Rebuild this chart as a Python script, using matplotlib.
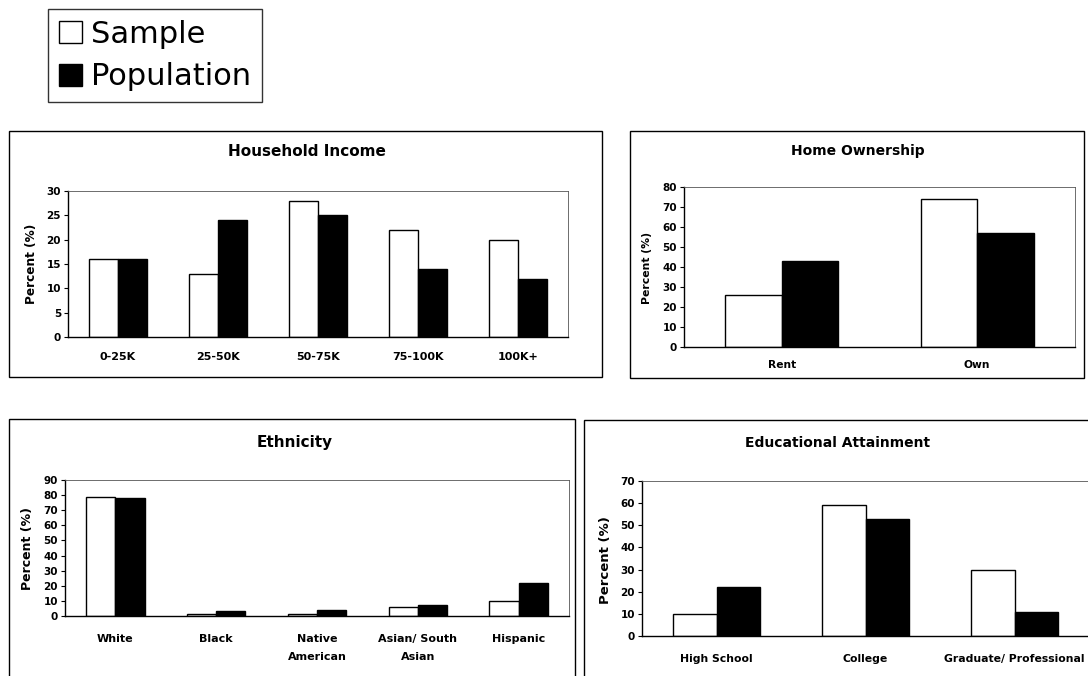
import numpy as np
import matplotlib.pyplot as plt
from matplotlib.patches import Rectangle

plt.rcParams['font.family'] = ['DejaVu Sans']

# survey sample vs. census population, percent
income_cats = ['0-25K', '25-50K', '50-75K', '75-100K', '100K+']
income_sample = [16, 13, 28, 22, 20]
income_pop = [16, 24, 25, 14, 12]

home_cats = ['Rent', 'Own']
home_sample = [26, 74]
home_pop = [43, 57]

eth_cats = ['White', 'Black', 'Native\nAmerican', 'Asian/ South\nAsian', 'Hispanic']
eth_sample = [79, 1.5, 1.5, 6, 10]
eth_pop = [78, 3, 4, 7, 22]

edu_cats = ['High School', 'College', 'Graduate/ Professional']
edu_sample = [10, 59, 30]
edu_pop = [22, 53, 11]

W, H = 1088, 676
fig = plt.figure(figsize=(W / 100, H / 100), dpi=100)


def rect(x0, y0, x1, y1):
    # pixel box (origin top-left) -> figure fraction [l, b, w, h]
    return [x0 / W, 1 - y1 / H, (x1 - x0) / W, (y1 - y0) / H]


def frame(x0, y0, x1, y1):
    l, b, w, h = rect(x0, y0, x1, y1)
    fig.patches.append(Rectangle((l, b), w, h, transform=fig.transFigure,
                                 fill=False, ec='black', lw=1.0))


def label(x, y, text, size, **kw):
    fig.text(x / W, 1 - y / H, text, ha='center', va='center',
             fontsize=size, fontweight='bold', **kw)


def panel(pos, cats, sample, pop, ymax, step, xfs=8, xpad=9):
    ax = fig.add_axes(rect(*pos))
    x = np.arange(len(cats))
    bw = 0.29
    b1 = ax.bar(x - bw / 2, sample, bw, color='white', edgecolor='black',
                linewidth=1.0, label='Sample')
    b2 = ax.bar(x + bw / 2, pop, bw, color='black', edgecolor='black',
                linewidth=1.0, label='Population')
    ax.set_xlim(-0.5, len(cats) - 0.5)
    ax.set_ylim(0, ymax)
    ax.set_yticks(np.arange(0, ymax + 1, step))
    ax.set_xticks(x)
    ax.set_xticklabels(cats, fontsize=xfs, fontweight='bold', linespacing=2.0)
    for t in ax.get_yticklabels():
        t.set_fontsize(7.5)
        t.set_fontweight('bold')
    ax.tick_params(axis='x', length=0, pad=xpad)
    ax.tick_params(axis='y', length=3, width=0.8, pad=2)
    for s in ['left', 'bottom']:
        ax.spines[s].set_linewidth(1.0)
    for s in ['top', 'right']:
        ax.spines[s].set_linewidth(0.6)
        ax.spines[s].set_color('#555555')
    return ax, b1, b2


# Household income
frame(9, 131, 602, 377)
ax1, bs, bp = panel((68, 191, 568, 337), income_cats, income_sample, income_pop,
                    30, 5, xfs=8, xpad=11)
label(307, 151, 'Household Income', 11)
label(32, 264, 'Percent (%)', 8.7, rotation=90)

# Home ownership
frame(630, 131, 1084, 378)
panel((684, 187, 1075, 347), home_cats, home_sample, home_pop, 80, 10,
      xfs=7.7, xpad=9)
label(858, 151, 'Home Ownership', 10)
label(647, 268, 'Percent (%)', 7.8, rotation=90)

# Ethnicity
frame(9, 419, 575, 690)
panel((65, 480, 569, 616), eth_cats, eth_sample, eth_pop, 90, 10,
      xfs=8, xpad=13)
label(295, 443, 'Ethnicity', 11)
label(28, 549, 'Percent (%)', 9, rotation=90)

# Educational attainment
frame(584, 420, 1100, 690)
panel((642, 481, 1089, 636), edu_cats, edu_sample, edu_pop, 70, 10,
      xfs=7.8, xpad=13)
label(838, 443, 'Educational Attainment', 10)
label(605, 560, 'Percent (%)', 9.5, rotation=90)

leg = fig.legend(handles=[bs, bp], loc='upper left',
                 bbox_to_anchor=(48 / W, 1 - 9 / H), fontsize=22,
                 frameon=True, fancybox=False, edgecolor='black',
                 handlelength=0.75, handleheight=0.75, handletextpad=0.3,
                 borderpad=0.35, labelspacing=0.45, borderaxespad=0)
leg.get_frame().set_linewidth(1.0)

fig.savefig('out.png', dpi=100)
